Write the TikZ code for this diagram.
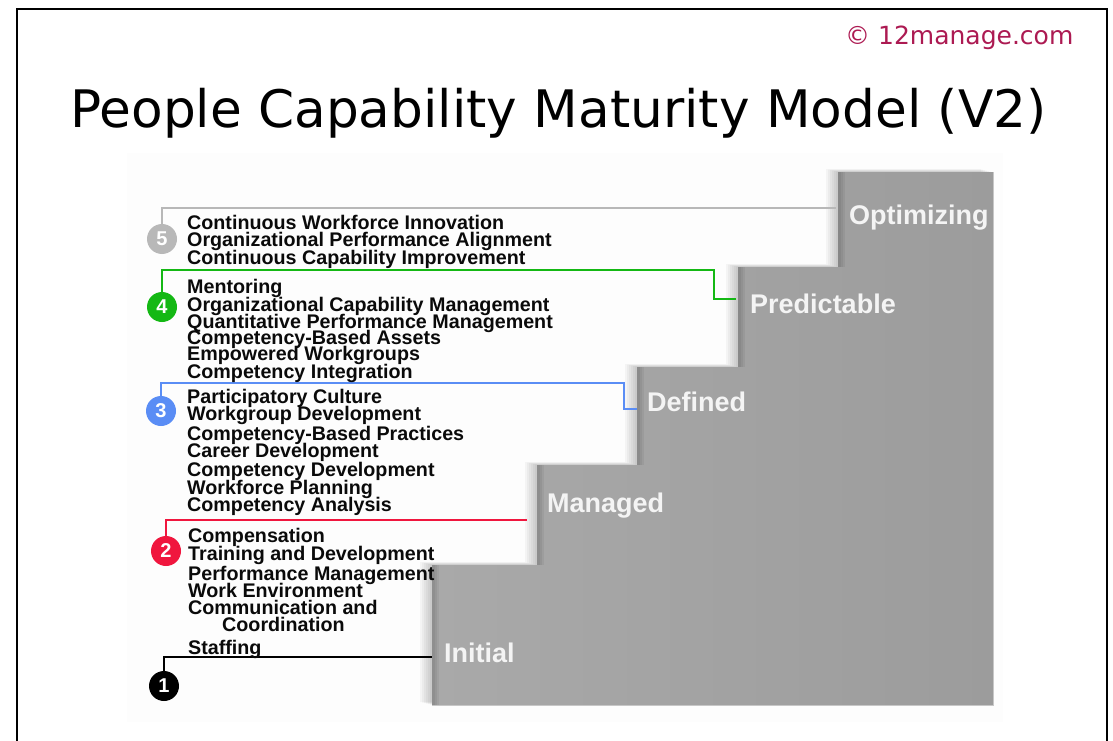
\documentclass[tikz,border=0pt]{standalone}
\usepackage{fontspec}
\setmainfont{Liberation Sans}
\newfontfamily\titlefont{DejaVu Sans}
\definecolor{stairL}{HTML}{A9A9A9}
\definecolor{stairR}{HTML}{9C9C9C}
\definecolor{lvlfive}{HTML}{B8B8B8}
\definecolor{lvlfour}{HTML}{14B814}
\definecolor{lvlthree}{HTML}{5A8DF5}
\definecolor{lvltwo}{HTML}{F0163E}
\definecolor{copyred}{HTML}{AC1A52}
\definecolor{labwhite}{HTML}{F4F4F4}
\definecolor{itemblack}{HTML}{0A0A0A}
\tikzset{
  itemtxt/.style={anchor=base west, inner sep=0pt, text=itemblack,
    font=\fontsize{19.7}{20}\selectfont\bfseries},
  steplabel/.style={anchor=base west, inner sep=0pt, text=labwhite,
    font=\fontsize{27}{27}\selectfont\bfseries},
  numcirc/.style={circle, inner sep=0pt, minimum size=30pt, text=white,
    font=\fontsize{20}{20}\selectfont\bfseries},
  conn/.style={line width=2pt}
}
\begin{document}
\begin{tikzpicture}[x=1pt,y=-1pt]
\useasboundingbox (0,0) rectangle (1113,741);
% faint panel
\fill[black!0.7] (127,153) rectangle (1003,722);
% frame
\draw[line width=2pt] (17,741) -- (17,9) -- (1107,9) -- (1107,741);
% title and copyright
\node[anchor=base west, inner sep=0pt, font=\titlefont\fontsize{51.7}{52}\selectfont] (title) at (70,128) {People Capability Maturity Model (V2)};
\node[anchor=base west, inner sep=0pt, text=copyred, font=\titlefont\fontsize{25}{25}\selectfont] (copy) at (845,45) {© 12manage.com};
% staircase shadow
\foreach \d in {12,10,8,6,4,2}{
  \fill[black,opacity=0.035,shift={(-\d,-0.25*\d)}]
    (432,705) -- (432,565) -- (537,565) -- (537,465) -- (637,465) -- (637,367)
    -- (738,367) -- (738,267) -- (838,267) -- (838,172) -- (993,172) -- (993,705) -- cycle;
}
% staircase
\path[left color=stairL, right color=stairR]
    (432,705) -- (432,565) -- (537,565) -- (537,465) -- (637,465) -- (637,367)
    -- (738,367) -- (738,267) -- (838,267) -- (838,172) -- (993,172) -- (993,705) -- cycle;
% riser shading
\foreach \x/\ya/\yb in {432/565/705, 537/465/565, 637/367/465, 738/267/367, 838/172/267}{
  \foreach \w in {7,5,3}{
    \fill[black,opacity=0.05] (\x,\ya) rectangle (\x+\w,\yb);
  }
}
\draw[black!22, line width=0.8pt] (993,172) -- (993,705) -- (432,705);
% step labels
\node[steplabel] (initial) at (444,662) {Initial};
\node[steplabel] (managed) at (547,512) {Managed};
\node[steplabel] (defined) at (647,411) {Defined};
\node[steplabel] (predictable) at (750,313) {Predictable};
\node[steplabel] (optimizing) at (849,224) {Optimizing};
% number circles
\node[numcirc, fill=lvlfive] (n5) at (162,239) {5};
\node[numcirc, fill=lvlfour] (n4) at (162,307) {4};
\node[numcirc, fill=lvlthree] (n3) at (161,411) {3};
\node[numcirc, fill=lvltwo] (n2) at (166,551) {2};
\node[numcirc, fill=black] (n1) at (164,686) {1};
% connector end points
\coordinate (e5) at (836,208);
\coordinate (k4) at (714,270);
\coordinate (e4) at (736,299);
\coordinate (k3) at (624,383);
\coordinate (e3) at (637,409);
\coordinate (e2) at (527,520);
\coordinate (e1) at (432,657);
% connectors
\draw[lvlfive, line width=1.6pt] (n5.north) |- (e5);
\draw[conn, lvlfour] (n4.north) |- (k4) |- (e4);
\draw[conn, lvlthree] (n3.north) |- (k3) |- (e3);
\draw[conn, lvltwo] (n2.north) |- (e2);
\draw[conn, black] (n1.north) |- (e1);
% level 5 items
\node[itemtxt] (t51) at (187,229) {Continuous Workforce Innovation};
\node[itemtxt] (t52) at (187,246) {Organizational Performance Alignment};
\node[itemtxt] (t53) at (187,264) {Continuous Capability Improvement};
% level 4 items
\node[itemtxt] (t41) at (187,293) {Mentoring};
\node[itemtxt] (t42) at (187,311) {Organizational Capability Management};
\node[itemtxt] (t43) at (187,328) {Quantitative Performance Management};
\node[itemtxt] (t44) at (187,344) {Competency-Based Assets};
\node[itemtxt] (t45) at (187,360) {Empowered Workgroups};
\node[itemtxt] (t46) at (187,378) {Competency Integration};
% level 3 items
\node[itemtxt] (t31) at (187,403) {Participatory Culture};
\node[itemtxt] (t32) at (187,420) {Workgroup Development};
\node[itemtxt] (t33) at (187,440) {Competency-Based Practices};
\node[itemtxt] (t34) at (187,457) {Career Development};
\node[itemtxt] (t35) at (187,476) {Competency Development};
\node[itemtxt] (t36) at (187,494) {Workforce Planning};
\node[itemtxt] (t37) at (187,511) {Competency Analysis};
% level 2 items
\node[itemtxt] (t21) at (188,542) {Compensation};
\node[itemtxt] (t22) at (188,560) {Training and Development};
\node[itemtxt] (t23) at (188,580) {Performance Management};
\node[itemtxt] (t24) at (188,597) {Work Environment};
\node[itemtxt] (t25) at (188,614) {Communication and};
\node[itemtxt] (t26) at (222,631) {Coordination};
\node[itemtxt] (t27) at (188,654) {Staffing};
\end{tikzpicture}
\end{document}
